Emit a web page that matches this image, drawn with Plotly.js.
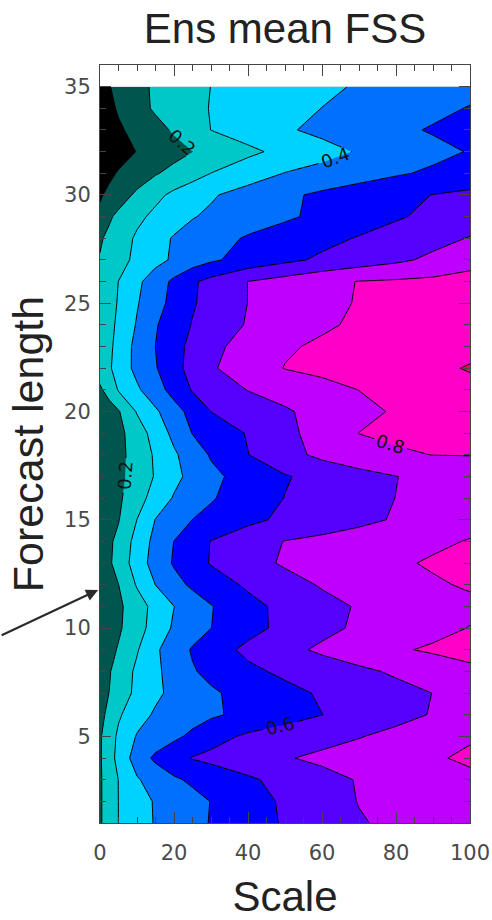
<!DOCTYPE html>
<html>
<head>
<meta charset="utf-8">
<script src="https://cdn.plot.ly/plotly-3.0.1.min.js"></script>
<style>
  html, body { margin: 0; padding: 0; background: #ffffff; }
  #chart { width: 492px; height: 920px; }
</style>
</head>
<body>
<div id="chart"></div>
<script>
// Scale (x) and forecast length (y) grid
const scale = [0, 2.5, 5, 10, 15, 20, 25, 30, 40, 50, 60, 70, 80, 90, 100];
const forecastLength = [1, 2, 3, 4, 5, 6, 7, 8, 9, 10, 11, 12, 13, 14, 15, 16, 17, 18,
                        19, 20, 21, 22, 23, 24, 25, 26, 27, 28, 29, 30, 31, 32, 33, 34, 35];

// Ensemble mean FSS, one row per forecast length (1 .. 35), columns follow `scale`
const fss = [
  [0.19, 0.241, 0.301, 0.356, 0.407, 0.440, 0.473, 0.505, 0.559, 0.609, 0.651, 0.693, 0.718, 0.739, 0.760], // 1
  [0.19, 0.241, 0.301, 0.359, 0.409, 0.440, 0.471, 0.502, 0.560, 0.614, 0.660, 0.703, 0.726, 0.748, 0.770], // 2
  [0.19, 0.241, 0.302, 0.391, 0.441, 0.486, 0.516, 0.540, 0.586, 0.628, 0.669, 0.706, 0.731, 0.755, 0.780], // 3
  [0.19, 0.257, 0.332, 0.445, 0.519, 0.567, 0.605, 0.623, 0.658, 0.693, 0.719, 0.743, 0.767, 0.790, 0.815], // 4
  [0.19, 0.250, 0.320, 0.407, 0.443, 0.480, 0.520, 0.564, 0.616, 0.642, 0.668, 0.695, 0.726, 0.758, 0.790], // 5
  [0.18, 0.219, 0.286, 0.364, 0.412, 0.437, 0.462, 0.486, 0.526, 0.563, 0.599, 0.635, 0.670, 0.706, 0.740], // 6
  [0.17, 0.201, 0.245, 0.324, 0.382, 0.423, 0.455, 0.487, 0.533, 0.573, 0.611, 0.641, 0.671, 0.701, 0.730], // 7
  [0.16, 0.193, 0.236, 0.319, 0.381, 0.438, 0.492, 0.524, 0.579, 0.619, 0.650, 0.681, 0.713, 0.747, 0.780], // 8
  [0.14, 0.173, 0.208, 0.292, 0.385, 0.451, 0.509, 0.552, 0.623, 0.673, 0.716, 0.753, 0.789, 0.812, 0.830], // 9
  [0.13, 0.158, 0.186, 0.260, 0.342, 0.413, 0.457, 0.499, 0.568, 0.626, 0.675, 0.715, 0.744, 0.774, 0.803], // 10
  [0.13, 0.156, 0.181, 0.255, 0.332, 0.399, 0.448, 0.495, 0.570, 0.627, 0.671, 0.708, 0.732, 0.756, 0.780], // 11
  [0.15, 0.175, 0.199, 0.309, 0.401, 0.467, 0.517, 0.552, 0.615, 0.665, 0.708, 0.735, 0.762, 0.789, 0.810], // 12
  [0.16, 0.188, 0.234, 0.350, 0.440, 0.510, 0.560, 0.606, 0.667, 0.711, 0.737, 0.762, 0.787, 0.810, 0.830], // 13
  [0.16, 0.185, 0.223, 0.336, 0.429, 0.501, 0.553, 0.603, 0.655, 0.703, 0.723, 0.743, 0.764, 0.784, 0.805], // 14
  [0.15, 0.173, 0.195, 0.301, 0.403, 0.451, 0.501, 0.526, 0.579, 0.618, 0.648, 0.678, 0.708, 0.739, 0.770], // 15
  [0.14, 0.162, 0.184, 0.259, 0.341, 0.408, 0.450, 0.492, 0.549, 0.602, 0.635, 0.668, 0.701, 0.731, 0.760], // 16
  [0.13, 0.154, 0.178, 0.238, 0.308, 0.374, 0.429, 0.477, 0.540, 0.593, 0.630, 0.664, 0.698, 0.729, 0.760], // 17
  [0.13, 0.153, 0.175, 0.237, 0.314, 0.386, 0.450, 0.509, 0.598, 0.667, 0.722, 0.765, 0.790, 0.801, 0.802], // 18
  [0.13, 0.153, 0.175, 0.248, 0.342, 0.425, 0.503, 0.538, 0.607, 0.675, 0.739, 0.801, 0.814, 0.827, 0.840], // 19
  [0.15, 0.171, 0.192, 0.308, 0.385, 0.462, 0.533, 0.601, 0.644, 0.689, 0.732, 0.774, 0.810, 0.835, 0.860], // 20
  [0.19, 0.226, 0.308, 0.385, 0.459, 0.535, 0.607, 0.640, 0.703, 0.735, 0.768, 0.801, 0.827, 0.853, 0.880], // 21
  [0.23, 0.288, 0.340, 0.427, 0.493, 0.569, 0.633, 0.689, 0.751, 0.803, 0.824, 0.844, 0.865, 0.886, 0.905], // 22
  [0.23, 0.280, 0.333, 0.429, 0.501, 0.567, 0.625, 0.675, 0.738, 0.790, 0.813, 0.830, 0.847, 0.863, 0.880], // 23
  [0.23, 0.274, 0.318, 0.408, 0.492, 0.551, 0.605, 0.642, 0.708, 0.748, 0.788, 0.813, 0.832, 0.851, 0.870], // 24
  [0.22, 0.264, 0.308, 0.393, 0.464, 0.530, 0.591, 0.631, 0.701, 0.739, 0.776, 0.806, 0.824, 0.842, 0.860], // 25
  [0.22, 0.260, 0.301, 0.379, 0.451, 0.520, 0.587, 0.629, 0.701, 0.738, 0.775, 0.803, 0.812, 0.821, 0.830], // 26
  [0.205, 0.236, 0.267, 0.322, 0.371, 0.414, 0.450, 0.486, 0.535, 0.578, 0.616, 0.648, 0.681, 0.720, 0.770], // 27
  [0.19, 0.220, 0.253, 0.314, 0.365, 0.408, 0.435, 0.462, 0.510, 0.542, 0.574, 0.606, 0.638, 0.669, 0.705], // 28
  [0.12, 0.187, 0.222, 0.278, 0.322, 0.358, 0.395, 0.415, 0.451, 0.486, 0.521, 0.555, 0.590, 0.621, 0.650], // 29
  [0.09, 0.121, 0.154, 0.218, 0.276, 0.321, 0.355, 0.390, 0.438, 0.482, 0.517, 0.546, 0.574, 0.602, 0.620], // 30
  [0.05, 0.081, 0.108, 0.150, 0.192, 0.229, 0.264, 0.301, 0.353, 0.403, 0.431, 0.460, 0.489, 0.515, 0.540], // 31
  [0.02, 0.041, 0.062, 0.103, 0.135, 0.167, 0.199, 0.226, 0.280, 0.326, 0.368, 0.408, 0.442, 0.475, 0.505], // 32
  [0.03, 0.058, 0.086, 0.130, 0.170, 0.211, 0.255, 0.301, 0.344, 0.389, 0.422, 0.451, 0.481, 0.508, 0.530], // 33
  [0.04, 0.078, 0.111, 0.167, 0.213, 0.244, 0.276, 0.304, 0.336, 0.369, 0.401, 0.427, 0.452, 0.478, 0.505], // 34
  [0.05, 0.096, 0.123, 0.174, 0.214, 0.243, 0.273, 0.301, 0.328, 0.356, 0.383, 0.408, 0.429, 0.449, 0.470]  // 35
];

// Fill colours for the bands <0.1, 0.1-0.2, ..., 0.8-0.9, >0.9
const bandColors = ['#000000', '#00554f', '#00c8c8', '#00d2ff', '#0070ff',
                    '#0000ff', '#5500ff', '#c000ff', '#ff00c8', '#ff0050'];
const xTicks = [0, 20, 40, 60, 80, 100];
const yTicks = [5, 10, 15, 20, 25, 30, 35];

const colorscale = bandColors.map((c, i) => [i / (bandColors.length - 1), c]);

const fillTrace = {
  type: 'contour', x: scale, y: forecastLength, z: fss,
  autocontour: false,
  contours: { start: 0.1, end: 0.9, size: 0.1, coloring: 'fill', showlines: false },
  colorscale: colorscale, showscale: false, hoverinfo: 'skip',
  line: { width: 0, smoothing: 0 }
};
const plainLines = {
  type: 'contour', x: scale, y: forecastLength, z: fss,
  autocontour: false,
  contours: { start: 0.1, end: 0.9, size: 0.2, coloring: 'none', showlines: true },
  line: { color: '#000000', width: 1, smoothing: 0 },
  showscale: false, hoverinfo: 'skip'
};
const labelledLines = {
  type: 'contour', x: scale, y: forecastLength, z: fss,
  autocontour: false,
  contours: { start: 0.2, end: 0.8, size: 0.2, coloring: 'none', showlines: true,
              showlabels: true, labelformat: '.1f',
              labelfont: { family: 'DejaVu Sans', size: 18, color: '#111111' } },
  line: { color: '#000000', width: 1, smoothing: 0 },
  showscale: false, hoverinfo: 'skip'
};

const axisCommon = {
  showgrid: false, zeroline: false,
  showline: true, linecolor: '#444444', linewidth: 1, mirror: 'ticks',
  ticks: 'inside', ticklen: 11, tickwidth: 1, tickcolor: '#444444',
  tickfont: { family: 'DejaVu Sans', size: 21, color: '#4a4a4a' }
};

const layout = {
  width: 492, height: 920,
  margin: { l: 100, r: 22, t: 65, b: 97 },
  paper_bgcolor: '#ffffff', plot_bgcolor: '#ffffff',
  showlegend: false,
  title: {
    text: 'Ens mean FSS',
    font: { family: 'Liberation Sans', size: 42, color: '#222222' },
    x: 0.5, xref: 'paper', y: 1 - 28 / 920, yref: 'container', yanchor: 'middle'
  },
  xaxis: Object.assign({}, axisCommon, {
    range: [0, 100], tickvals: xTicks, ticktext: xTicks.map(String),
    minor: { dtick: 5, ticklen: 6, tickcolor: '#444444', ticks: 'inside' },
    ticklabelstandoff: 11,
    title: { text: 'Scale', font: { family: 'Liberation Sans', size: 42, color: '#222222' }, standoff: 17 }
  }),
  yaxis: Object.assign({}, axisCommon, {
    range: [1, 36], tickvals: yTicks, ticktext: yTicks.map(String),
    minor: { dtick: 1, ticklen: 6, tickcolor: '#444444', ticks: 'inside' },
    ticklabelstandoff: 4,
    title: { text: 'Forecast length', font: { family: 'Liberation Sans', size: 43, color: '#222222' }, standoff: 7 }
  }),
  annotations: [{
    xref: 'paper', yref: 'paper', x: -0.005, y: (823 - 590) / 758,
    text: '', showarrow: true, ax: -98, ay: 46,
    arrowhead: 2, arrowsize: 1.1, arrowwidth: 2.2, arrowcolor: '#2b2b2b', standoff: 0
  }]
};

Plotly.newPlot('chart', [fillTrace, plainLines, labelledLines], layout,
               { staticPlot: true, displayModeBar: false });
</script>
</body>
</html>
